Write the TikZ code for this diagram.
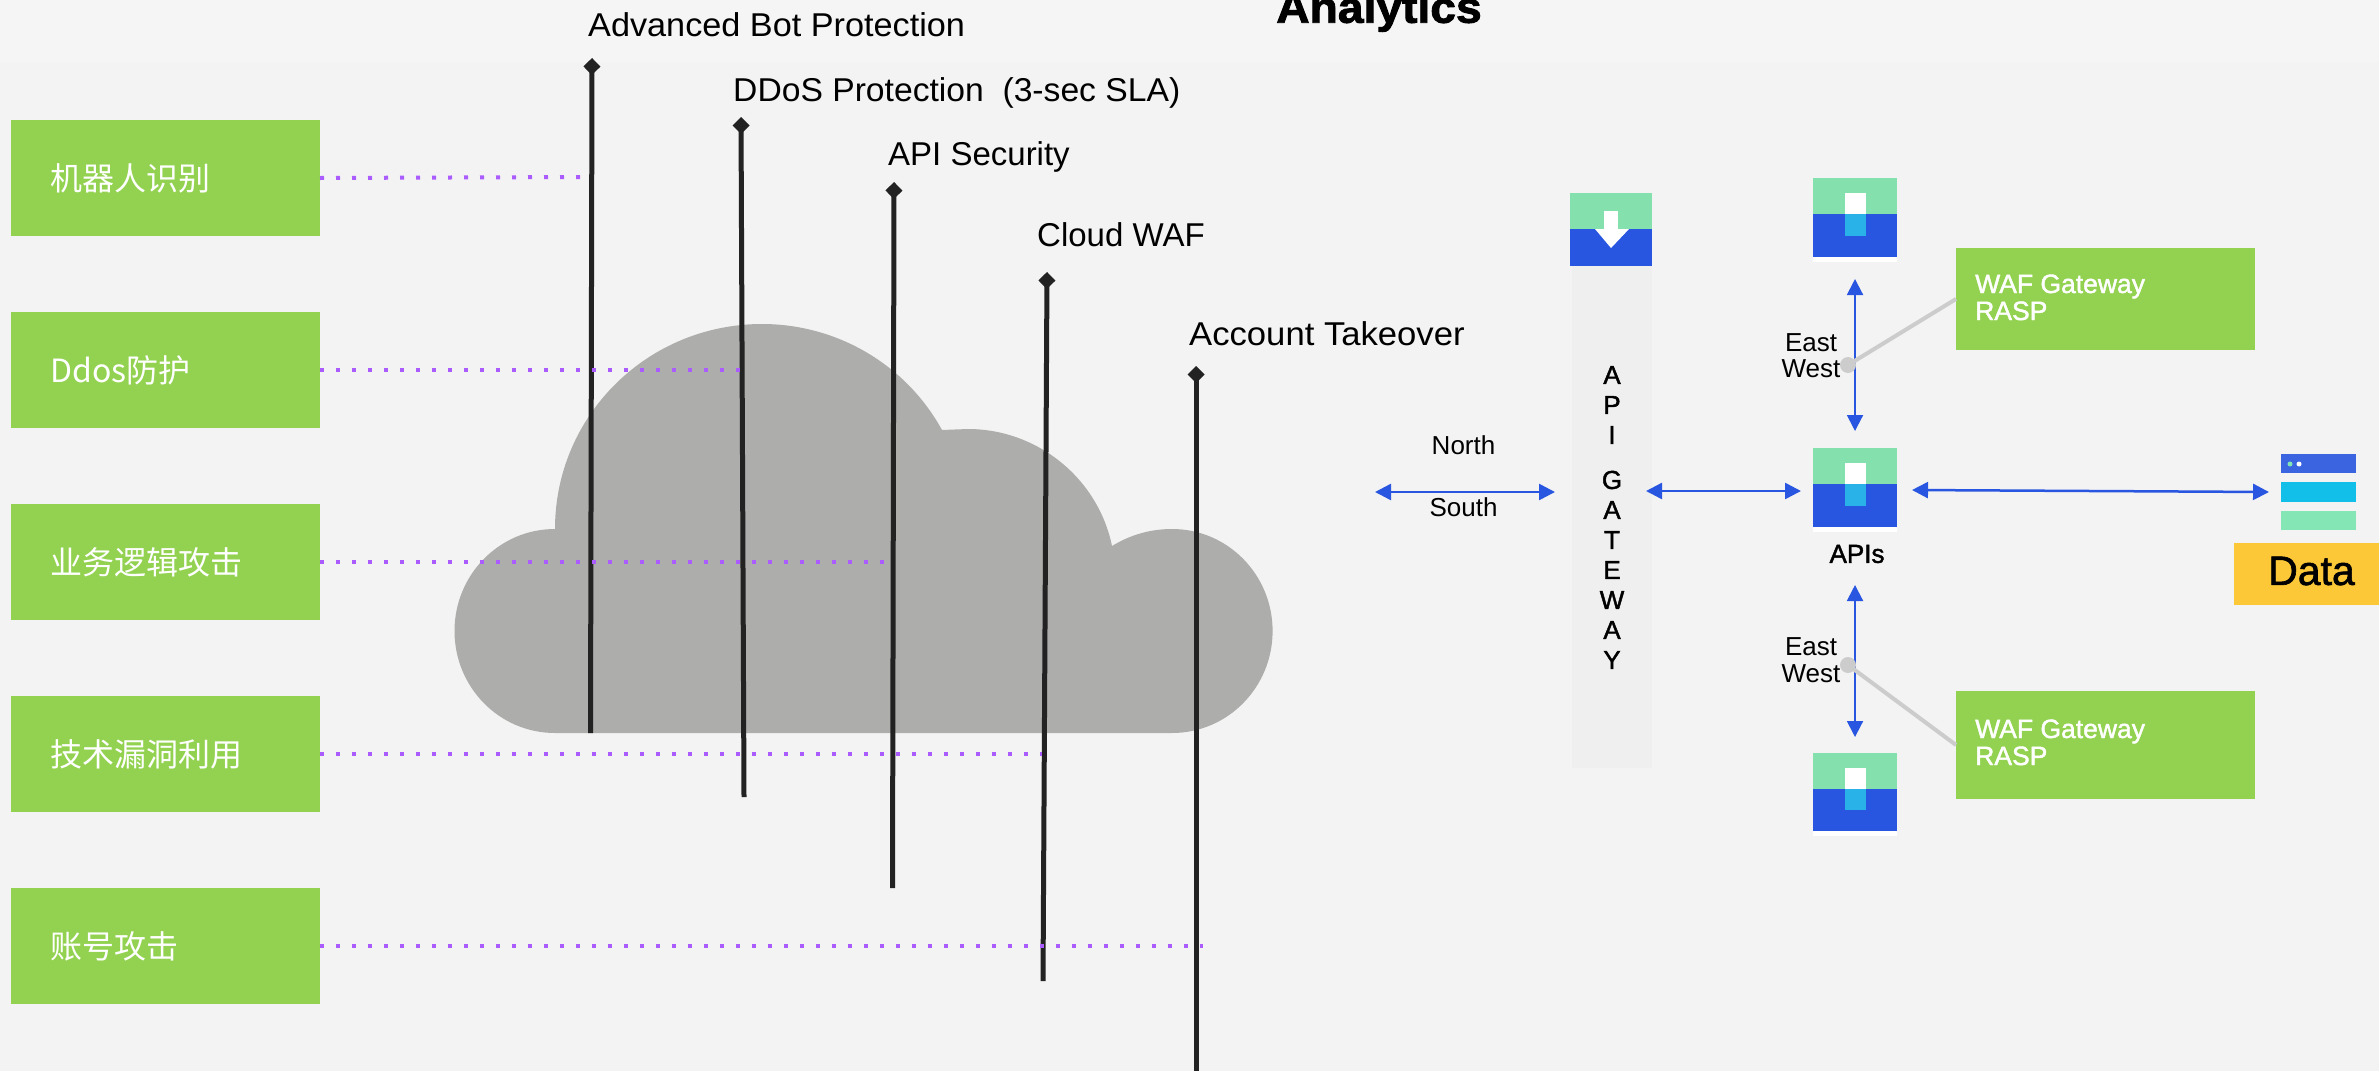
\documentclass[tikz,border=0pt]{standalone}
\usepackage{fontspec}
\usetikzlibrary{arrows.meta}
\setmainfont{Liberation Sans}
\newfontfamily\cjk{Noto Sans CJK SC}
\newfontfamily\medf[FakeBold=1.6]{Liberation Sans}
\newfontfamily\strA[FakeStretch=1.0375]{Liberation Sans}
\newfontfamily\strB[FakeStretch=1.02]{Liberation Sans}
\newfontfamily\strC[FakeStretch=1.05]{Liberation Sans}
\newfontfamily\headf[FakeStretch=1.05,FakeBold=2]{Liberation Sans Bold}
\definecolor{bgc}{HTML}{F3F3F3}
\definecolor{bgt}{HTML}{F5F5F5}
\definecolor{grn}{HTML}{92D250}
\definecolor{ink}{HTML}{222222}
\definecolor{dot}{HTML}{AA5CFF}
\definecolor{cloudc}{HTML}{ADADAB}
\definecolor{mint}{HTML}{84E1AD}
\definecolor{blu}{HTML}{2856E0}
\definecolor{sky}{HTML}{29B2E8}
\definecolor{lgray}{HTML}{CCCCCC}
\definecolor{panel}{HTML}{EFEFEF}
\definecolor{ylw}{HTML}{FCC838}
\definecolor{blu2}{HTML}{3A64E0}
\definecolor{cy}{HTML}{12BFE8}
\definecolor{mint2}{HTML}{84E5B5}
\tikzset{
  x=1pt,y=-1pt,
  gbox/.style={fill=grn,draw=none,inner sep=0pt,outer sep=0pt},
  cnlabel/.style={anchor=west,text=white,inner sep=0pt,font=\fontsize{32}{32}\selectfont\cjk},
  toplabel/.style={anchor=base west,text=black,inner sep=0pt,font=\fontsize{33}{33}\selectfont},
  smalllabel/.style={anchor=center,text=black,inner sep=0pt,font=\fontsize{26}{26}\selectfont},
  waflabel/.style={anchor=base west,text=white,inner sep=0pt,font=\fontsize{26.5}{26.5}\selectfont\medf},
  letter/.style={anchor=center,text=black,inner sep=0pt,font=\fontsize{26}{26}\selectfont\medf},
  bar/.style={draw=ink,line width=5pt,{Diamond[length=17pt,width=17pt]}-},
  dots/.style={draw=dot,line width=4pt,dash pattern=on 4pt off 12pt},
  flow/.style={draw=blu,line width=2.5pt,{Triangle[length=16pt,width=16pt]}-{Triangle[length=16pt,width=16pt]}},
  lead/.style={draw=lgray,line width=4pt},
}
\begin{document}
\begin{tikzpicture}
\useasboundingbox (0,0) rectangle (2379,1071);
\fill[bgc] (0,0) rectangle (2379,1071);
\fill[bgt] (0,0) rectangle (2379,62);
% title
\node[anchor=base,inner sep=0pt,font=\fontsize{44}{44}\selectfont\headf] (title) at (1379,22.7) {Analytics};
% cloud
\fill[cloudc] (555,733) .. controls (499,733) and (454.5,687) .. (454.5,631)
 .. controls (454.5,575) and (499,529) .. (555,529)
 .. controls (555,415) and (648,324) .. (762,324)
 .. controls (837,324) and (906,364.5) .. (942,430)
 -- (968,429)
 .. controls (1037,429) and (1098,478) .. (1112,546)
 .. controls (1130,535) and (1150,529) .. (1172,529)
 .. controls (1228,529) and (1272.6,575) .. (1272.6,631)
 .. controls (1272.6,687) and (1228,733) .. (1172,733) -- cycle;
% left boxes
\node[gbox,minimum width=309pt,minimum height=116pt] (b1) at (165.5,178) {};
\node[gbox,minimum width=309pt,minimum height=116pt] (b2) at (165.5,370) {};
\node[gbox,minimum width=309pt,minimum height=116pt] (b3) at (165.5,562) {};
\node[gbox,minimum width=309pt,minimum height=116pt] (b4) at (165.5,754) {};
\node[gbox,minimum width=309pt,minimum height=116pt] (b5) at (165.5,946) {};
\node[cnlabel] (c1) at (50,178) {机器人识别};
\node[cnlabel] (c2) at (50,370) {Ddos防护};
\node[cnlabel] (c3) at (50,562) {业务逻辑攻击};
\node[cnlabel] (c4) at (50,754) {技术漏洞利用};
\node[cnlabel] (c5) at (50,946) {账号攻击};
% bars
\coordinate (t1) at (592,58); \coordinate (e1) at (590.5,733);
\coordinate (t2) at (741,117); \coordinate (e2) at (744,797);
\coordinate (t3) at (894,182); \coordinate (e3) at (892.5,888);
\coordinate (t4) at (1047,272); \coordinate (e4) at (1043,981);
\coordinate (t5) at (1196,366); \coordinate (e5) at (1196,1071);
\coordinate (d1) at (580,177);
\coordinate (d2) at (741,370);
\coordinate (d3) at (885,562);
\coordinate (d4) at (1042,754);
\coordinate (d5) at (1203,946);
\draw[bar] (t1) -- (e1);
\draw[bar] (t2) -- (e2);
\draw[bar] (t3) -- (e3);
\draw[bar] (t4) -- (e4);
\draw[bar] (t5) -- (e5);
\draw[dots] (b1.east) -- (d1);
\draw[dots] (b2.east) -- (d2);
\draw[dots] (b3.east) -- (d3);
\draw[dots] (b4.east) -- (d4);
\draw[dots] (b5.east) -- (d5);
\node[toplabel,font=\fontsize{33}{33}\selectfont\strA] (l1) at (588,36) {Advanced Bot Protection};
\node[toplabel,font=\fontsize{33}{33}\selectfont\strB] (l2) at (733,101) {DDoS Protection\ \ (3-sec SLA)};
\node[toplabel] (l3) at (888,165) {API Security};
\node[toplabel] (l4) at (1037,246) {Cloud WAF};
\node[toplabel,font=\fontsize{33}{33}\selectfont\strC] (l5) at (1189,345) {Account Takeover};
% gateway
\fill[panel] (1572,266) rectangle (1652,768);
\fill[mint] (1570,193) rectangle (1652,229);
\fill[blu] (1570,229) rectangle (1652,266);
\fill[white] (1604,211) rectangle (1618,229);
\fill[white] (1595,229) -- (1629,229) -- (1611,248) -- cycle;
\node[letter] (g1) at (1612,375) {A};
\node[letter] (g2) at (1612,405) {P};
\node[letter] (g3) at (1612,435) {I};
\node[letter] (g4) at (1612,480) {G};
\node[letter] (g5) at (1612,510) {A};
\node[letter] (g6) at (1612,540) {T};
\node[letter] (g7) at (1612,570) {E};
\node[letter] (g8) at (1612,600) {W};
\node[letter] (g9) at (1612,630) {A};
\node[letter] (g10) at (1612,660) {Y};
% api icons
\fill[white] (1813,257) rectangle (1897,262);
\fill[mint] (1813,178) rectangle (1897,214);
\fill[blu] (1813,214) rectangle (1897,257);
\fill[white] (1845,193) rectangle (1866,214);
\fill[sky] (1845,214) rectangle (1866,236);
\fill[white] (1813,527) rectangle (1897,532);
\fill[mint] (1813,448) rectangle (1897,484);
\fill[blu] (1813,484) rectangle (1897,527);
\fill[white] (1845,463) rectangle (1866,484);
\fill[sky] (1845,484) rectangle (1866,506);
\fill[white] (1813,831) rectangle (1897,836);
\fill[mint] (1813,753) rectangle (1897,789);
\fill[blu] (1813,789) rectangle (1897,831);
\fill[white] (1845,768) rectangle (1866,789);
\fill[sky] (1845,789) rectangle (1866,810);
\node[smalllabel,font=\fontsize{26}{26}\selectfont\medf] (apis) at (1857,554) {APIs};
% arrows
\coordinate (ns1) at (1375,492); \coordinate (ns2) at (1555,492);
\coordinate (gm1) at (1646,491); \coordinate (gm2) at (1801,491);
\coordinate (dm1) at (1912,490); \coordinate (dm2) at (2269,492);
\coordinate (ew1) at (1855,279); \coordinate (ew2) at (1855,431);
\coordinate (ew3) at (1855,585); \coordinate (ew4) at (1855,737);
\draw[flow] (ns1) -- (ns2);
\draw[flow] (gm1) -- (gm2);
\draw[flow] (dm1) -- (dm2);
\draw[flow,line width=2pt] (ew1) -- (ew2);
\draw[flow,line width=2pt] (ew3) -- (ew4);
\node[smalllabel] (north) at (1463.5,445) {North};
\node[smalllabel] (south) at (1463.5,507) {South};
\node[smalllabel] (east1) at (1811,343) {East};
\node[smalllabel] (west1) at (1811,369) {West};
\node[smalllabel] (east2) at (1811,647) {East};
\node[smalllabel] (west2) at (1811,674) {West};
% WAF boxes
\node[gbox,minimum width=299pt,minimum height=102pt] (w1) at (2105.5,299) {};
\node[gbox,minimum width=299pt,minimum height=108pt] (w2) at (2105.5,745) {};
\node[waflabel] (w1a) at (1975,293) {WAF Gateway};
\node[waflabel] (w1b) at (1975,320) {RASP};
\node[waflabel] (w2a) at (1975,738) {WAF Gateway};
\node[waflabel] (w2b) at (1975,765) {RASP};
\coordinate (k1c) at (1848,365);
\coordinate (k2c) at (1848,665);
\fill[lgray] (k1c) circle [radius=8];
\fill[lgray] (k2c) circle [radius=8];
\draw[lead] (k1c) -- (w1.west);
\draw[lead] (k2c) -- (w2.west);
% data stack
\fill[blu2] (2281,454) rectangle (2356,473);
\fill[cy] (2281,482) rectangle (2356,502);
\fill[mint2] (2281,511) rectangle (2356,530);
\fill[mint2] (2290,464) circle [radius=2.5];
\fill[white] (2299,464) circle [radius=2.5];
\node[fill=ylw,inner sep=0pt,minimum width=145pt,minimum height=62pt] (databox) at (2306.5,574) {};
\node[anchor=center,inner sep=0pt,font=\fontsize{41}{41}\selectfont\medf] (data) at (2311.5,571) {Data};
\end{tikzpicture}
\end{document}
